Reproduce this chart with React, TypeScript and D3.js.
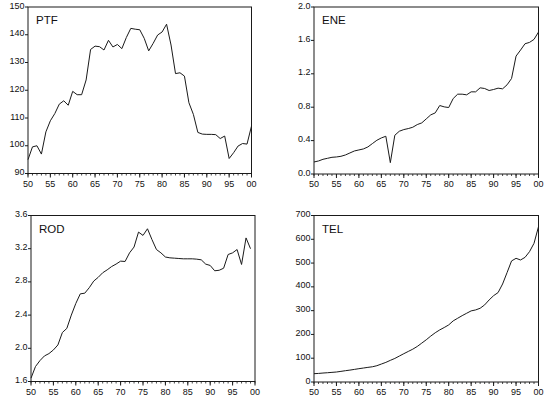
import React from 'react';
import * as d3 from 'd3';

// years 1950..2000
const years = d3.range(1950, 2001);
const xTickYears = [1950, 1955, 1960, 1965, 1970, 1975, 1980, 1985, 1990, 1995, 2000];
const xTickLabels = ['50', '55', '60', '65', '70', '75', '80', '85', '90', '95', '00'];

const ptf = [
  95.0, 99.6, 100.0, 97.0, 105.0, 109.0, 111.6, 115.0, 116.2, 114.6,
  119.6, 118.4, 118.4, 123.7, 134.7, 135.9, 135.7, 134.5, 138.0, 135.6,
  136.5, 135.0, 139.0, 142.3, 142.0, 141.8, 138.7, 134.2, 136.9, 139.9,
  141.0, 143.8, 136.3, 126.0, 126.3, 125.1, 115.5, 111.3, 104.8, 104.2,
  104.1, 104.1, 104.0, 102.6, 103.5, 95.4, 97.5, 99.9, 100.8, 100.6,
  107.1,
];

const ene = [
  0.144, 0.156, 0.176, 0.188, 0.2, 0.204, 0.212, 0.228, 0.252, 0.276,
  0.288, 0.3, 0.324, 0.364, 0.404, 0.432, 0.452, 0.136, 0.464, 0.512,
  0.532, 0.544, 0.56, 0.592, 0.612, 0.66, 0.708, 0.732, 0.82, 0.804,
  0.796, 0.904, 0.956, 0.956, 0.948, 0.984, 0.984, 1.032, 1.024, 1.0,
  1.012, 1.028, 1.02, 1.068, 1.144, 1.412, 1.484, 1.56, 1.576, 1.612,
  1.7,
];

// ROD stops at 1999
const rod = [
  1.64, 1.78, 1.852, 1.908, 1.936, 1.98, 2.04, 2.19, 2.24, 2.4,
  2.54, 2.656, 2.664, 2.73, 2.81, 2.855, 2.91, 2.945, 2.985, 3.015,
  3.05, 3.046, 3.15, 3.22, 3.4, 3.36, 3.44, 3.31, 3.19, 3.15,
  3.1, 3.09, 3.086, 3.082, 3.078, 3.078, 3.078, 3.074, 3.066, 3.014,
  2.998, 2.934, 2.94, 2.965, 3.13, 3.15, 3.19, 3.01, 3.33, 3.2,
];

const tel = [
  35, 36, 37.7, 39, 40.5, 42, 44.7, 47.5, 50, 53,
  56, 58.7, 61.5, 64, 68.5, 75.5, 82.4, 91, 99, 109,
  119, 128.5, 138, 149.5, 163.5, 177.5, 193, 207, 219, 229,
  240, 257, 268, 279, 289, 299, 303, 310, 324, 345,
  363, 376, 412, 460, 509, 520, 513, 524, 548, 583,
  653,
];

const ptfTicks = [90, 100, 110, 120, 130, 140, 150];
const ptfTickLabels = ['90', '100', '110', '120', '130', '140', '150'];
const eneTicks = [0, 0.4, 0.8, 1.2, 1.6, 2.0];
const eneTickLabels = ['0.0', '0.4', '0.8', '1.2', '1.6', '2.0'];
const rodTicks = [1.6, 2.0, 2.4, 2.8, 3.2, 3.6];
const rodTickLabels = ['1.6', '2.0', '2.4', '2.8', '3.2', '3.6'];
const telTicks = [0, 100, 200, 300, 400, 500, 600, 700];
const telTickLabels = ['0', '100', '200', '300', '400', '500', '600', '700'];

const font = '"Liberation Sans", Arial, Helvetica, sans-serif';

type PanelProps = {
  title: string;
  values: number[];
  domain: [number, number];
  ticks: number[];
  tickLabels: string[];
  left: number;
  right: number;
  top: number;
  bottom: number;
};

const Panel = ({ title, values, domain, ticks, tickLabels, left, right, top, bottom }: PanelProps) => {
  const x = d3.scaleLinear().domain([1950, 2000]).range([left, right]);
  const y = d3.scaleLinear().domain(domain).range([bottom, top]);

  const line = d3.line<number>()
    .x((d, i) => x(years[i]))
    .y(d => y(d));

  return (
    <g>
      {/* line */}
      <path d={line(values) || ''} fill="none" stroke="#1a1a1a" strokeWidth={1} />

      {/* frame */}
      <rect x={left} y={top} width={right - left} height={bottom - top}
        fill="none" stroke="#1a1a1a" strokeWidth={1} />

      {/* y ticks */}
      {ticks.map((t, i) => (
        <g key={'y' + i}>
          <line x1={left - 3} x2={left} y1={y(t)} y2={y(t)} stroke="#1a1a1a" />
          <text x={left - 3.5} y={y(t) + 1.5} textAnchor="end" fontSize={9}
            fontFamily={font} fill="#111">{tickLabels[i]}</text>
        </g>
      ))}

      {/* x minor ticks */}
      {years.map(yr => (
        <line key={'m' + yr} x1={x(yr)} x2={x(yr)} y1={bottom} y2={bottom + 2}
          stroke="#1a1a1a" strokeWidth={0.8} />
      ))}

      {/* x major ticks + labels */}
      {xTickYears.map((yr, i) => (
        <g key={'x' + yr}>
          <line x1={x(yr)} x2={x(yr)} y1={bottom} y2={bottom + 4} stroke="#1a1a1a" />
          <text x={x(yr)} y={bottom + 13} textAnchor="middle" fontSize={9}
            fontFamily={font} fill="#111">{xTickLabels[i]}</text>
        </g>
      ))}

      <text x={left + 8} y={top + 17} fontSize={11.5} fontFamily={font} fill="#111">{title}</text>
    </g>
  );
};

const App = () => {
  return (
    <svg width={546} height={403} style={{ position: 'absolute', left: 0, top: 0, background: '#fff' }}>
      <rect width={546} height={403} fill="#fff" />
      <Panel title="PTF" values={ptf} domain={[90, 150]} ticks={ptfTicks} tickLabels={ptfTickLabels}
        left={28} right={251.5} top={7} bottom={173.5} />
      <Panel title="ENE" values={ene} domain={[0, 2]} ticks={eneTicks} tickLabels={eneTickLabels}
        left={314} right={538.5} top={7} bottom={174} />
      <Panel title="ROD" values={rod} domain={[1.6, 3.6]} ticks={rodTicks} tickLabels={rodTickLabels}
        left={31} right={255} top={215.5} bottom={381.5} />
      <Panel title="TEL" values={tel} domain={[0, 700]} ticks={telTicks} tickLabels={telTickLabels}
        left={314} right={538.5} top={215.5} bottom={382} />
    </svg>
  );
};

export default App;
